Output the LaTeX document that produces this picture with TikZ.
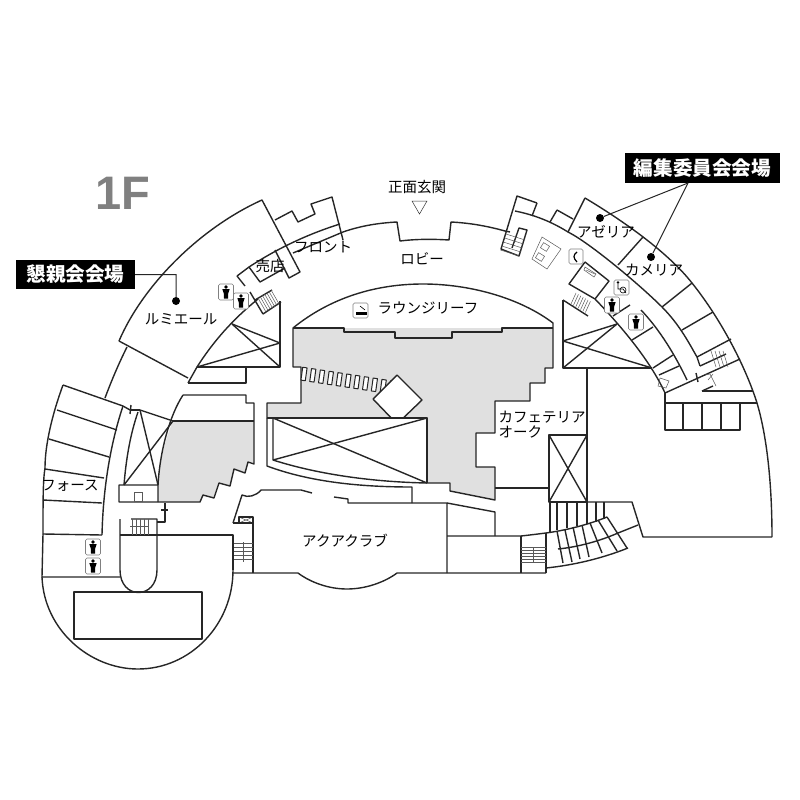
\documentclass[tikz,border=0pt]{standalone}
\usepackage{fontspec}
\setmainfont{Noto Sans CJK JP}
\newfontfamily\latinfont{Liberation Sans}
\tikzset{
  wall/.style = {line width=1.4pt, line join=round, black!85},
  fine/.style = {line width=0.5pt, black!65},
  place/.style = {font=\fontsize{14.5}{15}\selectfont, inner sep=0pt},
  banner/.style = {fill=black, text=white, font=\fontsize{19.6}{21}\selectfont\bfseries, inner sep=0pt, minimum height=29pt},
  leader/.style = {line width=1pt, black!85},
  pin/.style = {circle, fill=black, inner sep=0pt, minimum size=8pt},
  tag/.style = {rounded corners=1.5pt, line width=0.6pt, black!50, fill=white},
  wcmark/.pic = {
    \draw[tag] (-7.5,-8) rectangle (7.5,8);
    \fill (0,-5) circle (1.9);
    \fill (-3.6,-2.8) -- (3.6,-2.8) -- (2.2,1.5) -- (2,6.5) -- (-2,6.5) -- (-2.2,1.5) -- cycle;
  }
}
\begin{document}
\begin{tikzpicture}[x=1pt, y=-1pt]
\useasboundingbox (0,0) rectangle (800,800);

% grey floor
\fill[black!12] (293,328) -- (553,328) -- (553,368) -- (545,368) -- (545,383) -- (530,383) -- (530,401) -- (495,401) -- (495,433) -- (476,433) -- (476,467) -- (495,467) -- (495,500) -- (450,491) -- (450,483) -- (427,483) -- (427,418) -- (267,418) -- (267,403) -- (301,403) -- (301,367) -- (293,367) -- cycle;
\fill[black!12] (173,421) -- (254,421) -- (254,464) -- (248,462) -- (245,473) -- (234,469) -- (230,486) -- (219,483) -- (214,498) -- (203,495) -- (200,502) -- (158,502) -- (158,485) .. controls (160,460) and (165,440) .. (173,421) -- cycle;

% outer shell
\draw[wall] (119,341) .. controls (143,285) and (200,228) .. (262,200) -- (300,272) -- (289,278) -- (275,250);
\draw[wall] (119,341) -- (188,378);
\draw[wall] (127,347) .. controls (118,365) and (111,382) .. (105,398);
\draw[wall] (275,220) -- (292,211) -- (298,222) -- (315,214) -- (311,204) -- (332,197) -- (343,240);
\draw[wall] (249,267) .. controls (275,250) and (305,235) .. (340,224);
\draw[wall] (293,253) -- (343,232) .. controls (360,226) and (378,223) .. (397,222) -- (400,241) .. controls (416,239) and (433,239) .. (449,240) -- (451,222) .. controls (470,223) and (487,226) .. (505,231);
\draw[wall] (237,276) -- (249,267) -- (260,282) -- (285,268);
\draw[wall] (237,276) -- (245,286);
\draw[wall] (188,383) -- (246,383) -- (246,367);
\draw[wall] (188,383) -- (197,367) .. controls (213,342) and (232,320) .. (258,299);
\draw[wall] (250,292) -- (263,314);
\draw[wall] (255,300) -- (272,290);
\draw[wall] (263,314) -- (281,302);
\foreach \n in {0,...,6}
  \draw[fine] ({258+\n*2.2},{298-\n*1.3}) -- ({266+\n*2.2},{312-\n*1.3});
\draw[wall] (280,301) -- (280,367) -- (197,367);
\draw[wall] (232,324) -- (280,367);
\draw[wall] (232,324) -- (280,343);
\draw[wall] (197,367) -- (280,343);

% lounge roof
\draw[wall] (293,328) .. controls (330,298) and (375,284) .. (423,284) .. controls (470,284) and (520,298) .. (553,323) -- (553,368) -- (545,368) -- (545,383) -- (530,383) -- (530,401) -- (495,401) -- (495,433) -- (476,433) -- (476,467) -- (495,467) -- (495,500) -- (450,491) -- (450,483) -- (427,483) -- (427,418) -- (267,418) -- (267,403) -- (301,403) -- (301,367) -- (293,367) -- cycle;
\draw[wall] (293,328) -- (344,328) -- (344,332) -- (395,332) -- (395,338) -- (452,338) -- (452,332) -- (502,332) -- (502,328) -- (553,328);
\foreach \n in {0,...,10}
  \draw[wall, line width=1pt, fill=white, shift={({304+\n*8.8},{374+\n*1.35})}, rotate=-8] (-2.2,-6.5) rectangle (2.2,6.5);
\draw[wall, fill=white] (397,375) -- (422,400) -- (397,424) -- (373,399) -- cycle;

% void in the middle
\fill[white] (267,418) -- (427,418) -- (427,483) .. controls (375,482) and (320,475) .. (273,460) -- (267,460) -- cycle;
\draw[wall] (267,418) -- (427,418) -- (427,483);
\draw[wall] (267,418) -- (267,466) .. controls (310,482) and (360,487) .. (412,487) -- (412,503);
\draw[wall] (273,418) -- (273,460) .. controls (320,475) and (375,482) .. (427,483);
\draw[wall] (273,418) -- (427,483);
\draw[wall] (273,460) -- (427,418);

% left wing
\draw[wall] (183,395) -- (246,395) -- (246,403) -- (254,403) -- (254,464) -- (248,462) -- (245,473) -- (234,469) -- (230,486) -- (219,483) -- (214,498) -- (203,495) -- (200,502) -- (119,502) -- (119,485) -- (158,485);
\draw[wall] (158,502) -- (158,485) .. controls (160,450) and (170,415) .. (183,395);
\draw[wall] (173,421) -- (254,421);
\draw[wall] (140,410) -- (173,421);
\draw[wall] (140,410) -- (158,485);
\draw[wall] (173,421) -- (124,485);
\draw[wall] (138,412) .. controls (130,435) and (126,460) .. (124,485);
\draw[fine] (134,492) rectangle (142,501);
\draw[wall] (63,385) -- (123,406);
\draw[wall] (63,385) .. controls (52,415) and (45,445) .. (45,468);
\draw[wall] (45,468) .. controls (43,480) and (43,500) .. (43,534);
\draw[wall] (123,406) .. controls (110,445) and (103,490) .. (102,535);
\draw[wall] (123,406) -- (130,410);
\draw[wall] (130,410) -- (140,410);
\draw[wall] (131,405) -- (130,414);
\draw[wall] (57,410) -- (117,430);
\draw[wall] (49,439) -- (109,457);
\draw[wall] (45,469) -- (104,478);
\draw[wall] (43,500) -- (102,503);
\draw[wall] (43,534) -- (102,535);
\draw[wall] (43,534) -- (42,577) -- (120,577);
\draw[wall] (42,577) .. controls (44,630) and (90,669) .. (138,669) .. controls (190,669) and (233,625) .. (233,570);
\draw[wall] (120,519) -- (120,570) .. controls (120,600) and (157,600) .. (157,570) -- (157,519) -- (131,519);
\draw[wall] (120,535) -- (233,535) -- (233,570);
\draw[wall] (157,522) -- (165,522) -- (165,503);
\draw[wall] (161,510) -- (168,510);
\foreach \n in {132,136,140,144,148}
  \draw[fine] (\n,519) -- (\n,535);
\draw[fine] (130,526) -- (149,526);
\draw[wall] (74,592) rectangle (202,639);

% aqua club
\draw[wall] (233,523) -- (242,495) .. controls (248,498) and (256,496) .. (261,490) -- (301,490) -- (312,493);
\draw[wall] (334,497) -- (348,499) -- (348,503) -- (447,503) -- (447,573);
\draw[wall] (233,523) -- (253,523) -- (253,573);
\draw[wall] (233,573) -- (298,573) .. controls (310,582) and (328,589) .. (347,589) .. controls (366,589) and (385,582) .. (397,573) -- (546,573);
\draw[wall] (239,517) rectangle (253,523);
\draw[fine] (241,518) -- (251,522);
\draw[fine] (241,522) -- (251,518);
\foreach \n in {543,547,551,555,559}
  \draw[fine] (234,\n) -- (253,\n);
\draw[fine] (243,542) -- (243,562);
\draw[wall] (447,503) -- (495,512) -- (495,536);
\draw[wall] (447,536) -- (521,536) .. controls (530,535) and (538,534) .. (546,533);
\draw[wall] (521,536) -- (521,573);
\draw[wall] (546,533) -- (546,573);
\foreach \n in {547,550,553,556,559,562}
  \draw[fine] (521,\n) -- (546,\n);
\draw[fine] (533,547) -- (533,563);

% cafeteria side and curved stair
\draw[wall] (587,369) -- (587,502);
\draw[wall] (549,435) rectangle (587,502);
\draw[wall] (549,435) -- (587,502);
\draw[wall] (549,502) -- (587,435);
\draw[wall] (495,488) -- (549,488);
\draw[wall] (550,502) -- (550,533);
\draw[wall] (587,502) -- (632,502) -- (643,537) -- (772,537);
\foreach \a/\b in {557/530,567/528,577/526,587/524,596/522,604/519}
  \draw[wall] (\a,502) -- (\a,\b);
\draw[wall] (546,533) .. controls (568,530) and (590,524) .. (607,517);
\draw[wall] (618,533) -- (638,525);
\draw[wall] (558,549) .. controls (578,547) and (600,541) .. (618,533);
\draw[wall] (546,568) .. controls (575,565) and (603,558) .. (628,548);
\foreach \a/\b/\c/\d in {557/531/563/563,565/530/572/562,573/527/580/559,582/525/589/557,590/523/602/553,598/520/617/551,607/517/627/548}
  \draw[wall] (\a,\b) -- (\c,\d);

% right wing
\draw[wall] (585,198) .. controls (630,225) and (670,255) .. (692,283) .. controls (720,318) and (745,365) .. (757,403) .. controls (768,440) and (772,490) .. (772,537);
\draw[wall] (585,198) -- (568,232);
\draw[wall] (537,203) -- (517,196) -- (501,249) -- (519,256) -- (527,230) -- (519,228) -- (512,248);
\draw[wall] (537,203) -- (532,216);
\draw[wall] (515,211) .. controls (535,215) and (552,222) .. (568,232) .. controls (590,243) and (640,285) .. (662,307) .. controls (680,325) and (690,345) .. (697,357) -- (700,366);
\draw[wall] (505,231) -- (510,232);
\foreach \n in {0,...,4}
  \draw[fine] ({506-\n*1.4},{234+\n*4}) -- ({525-\n*1.4},{240+\n*4});
\draw[wall] (557,210) -- (573,219);
\draw[wall] (557,210) -- (550,222);
\draw[wall] (643,237) -- (618,265);
\draw[wall] (692,283) -- (662,307);
\draw[wall] (713,312) -- (682,330);
\draw[wall] (731,339) -- (697,357);
\draw[wall] (700,366) -- (726,354);
\draw[wall] (665,393) -- (740,359);
\draw[wall] (696,373) -- (698,382);
\foreach \n in {711,715,719,723}
  \draw[fine] (\n,351) -- ({\n+5},367);
\draw[fine] (705,375) -- (710,374) -- (716,386);
\draw[fine] (708,380) -- (713,374);
\draw[wall] (702,391) -- (713,386);
\draw[wall] (702,391) -- (753,391);
\draw[wall] (665,403) -- (757,403);
\draw[wall] (665,393) -- (665,430) -- (740,430) -- (740,403);
\foreach \n in {683,702,721}
  \draw[wall] (\n,403) -- (\n,430);
\draw[wall] (595,299) .. controls (620,325) and (650,360) .. (665,393);
\draw[wall] (641,310) .. controls (660,330) and (675,355) .. (687,380);
\draw[wall] (630,305) -- (613,316);
\draw[wall] (653,368) -- (673,355);
\draw[wall] (659,375) -- (679,366);
\draw[wall] (632,340) -- (653,327);
\draw[fine] (660,378) -- (669,381) -- (666,388) -- (658,386) -- cycle;
\draw[wall] (585,262) -- (569,284) -- (595,299);
\draw[wall] (585,262) -- (609,281) -- (595,299);
\draw[fine] (585,267) -- (596,274) -- (594,277) -- (584,270) -- cycle;
\draw[fine] (586,270) -- (595,274);
\draw[wall] (563,300) -- (563,368) -- (652,368);
\draw[wall] (563,300) -- (588,316);
\draw[wall] (563,368) -- (617,324);
\draw[wall] (563,341) -- (617,324);
\draw[wall] (563,341) -- (652,368);
\foreach \n in {0,...,6}
  \draw[fine] ({571+\n*2.4},{304+\n*1.4}) -- ({576+\n*2.4},{293+\n*1.4});
\draw[fine] (542,237) -- (561,249) -- (547,269) -- (532,259) -- cycle;
\draw[fine, shift={(545,247)}, rotate=-32] (-3.5,-3) rectangle (3.5,3);
\draw[fine, shift={(540,257)}, rotate=-32] (-3.5,-3) rectangle (3.5,3);

% pictograms
\pic at (226,292) {wcmark};
\pic at (241,301) {wcmark};
\pic at (612,305) {wcmark};
\pic at (636,322) {wcmark};
\pic at (93,547) {wcmark};
\pic at (93,566) {wcmark};
\draw[tag] (353,303) rectangle (368,318);
\draw[fill=black] (356,312) rectangle (366,314);
\draw[line width=0.6pt] (360,306) -- (365,310);
\draw[tag] (569,249) rectangle (583,264);
\draw[line width=1.2pt] (577,252) .. controls (573,255) and (573,258) .. (577,262);
\draw[tag] (614,280) rectangle (629,295);
\fill (618,282.5) circle (1.3);
\draw[line width=0.6pt] (618,284) -- (618,289) -- (623,289) -- (626,293);
\draw[line width=0.6pt] (623,290) circle (3);

% labels
\node[font=\fontsize{47}{47}\selectfont\latinfont\bfseries, text=black!50, inner sep=0pt] (floorname) at (123,193) {1F};
\node[place] (frontname) at (323,247) {フロント};
\node[place] (shopname) at (270,266) {売店};
\node[place] (lumiere) at (181,319) {ルミエール};
\node[place] (lobby) at (422,259) {ロビー};
\node[place] (lounge) at (428,308) {ラウンジリーフ};
\node[place] (azalea) at (606,232) {アゼリア};
\node[place] (camellia) at (654,270) {カメリア};
\node[place, align=left] (cafe) at (542,425) {カフェテリア\\オーク};
\node[place] (force) at (70,486) {フォース};
\node[place] (aqua) at (345,541) {アクアクラブ};
\node[place] (entrance) at (417,187) {正面玄関};
\draw[line width=0.5pt, black!80] (412,201) -- (427,201) -- (419.5,214) -- cycle;

% banners
\node[banner, minimum width=119pt] (party) at (75.5,274.5) {懇親会会場};
\node[banner, minimum width=155pt, minimum height=30pt] (editors) at (702.5,168) {編集委員会会場};
\node[pin] (partydot) at (176,301) {};
\node[pin] (azaleadot) at (600,218) {};
\node[pin] (camelliadot) at (651,257) {};
\draw[leader] (party.east) -- ++(41,0) -- (partydot);
\draw[leader] (688,183) -- (azaleadot);
\draw[leader] (688,183) -- (camelliadot);
\end{tikzpicture}
\end{document}
